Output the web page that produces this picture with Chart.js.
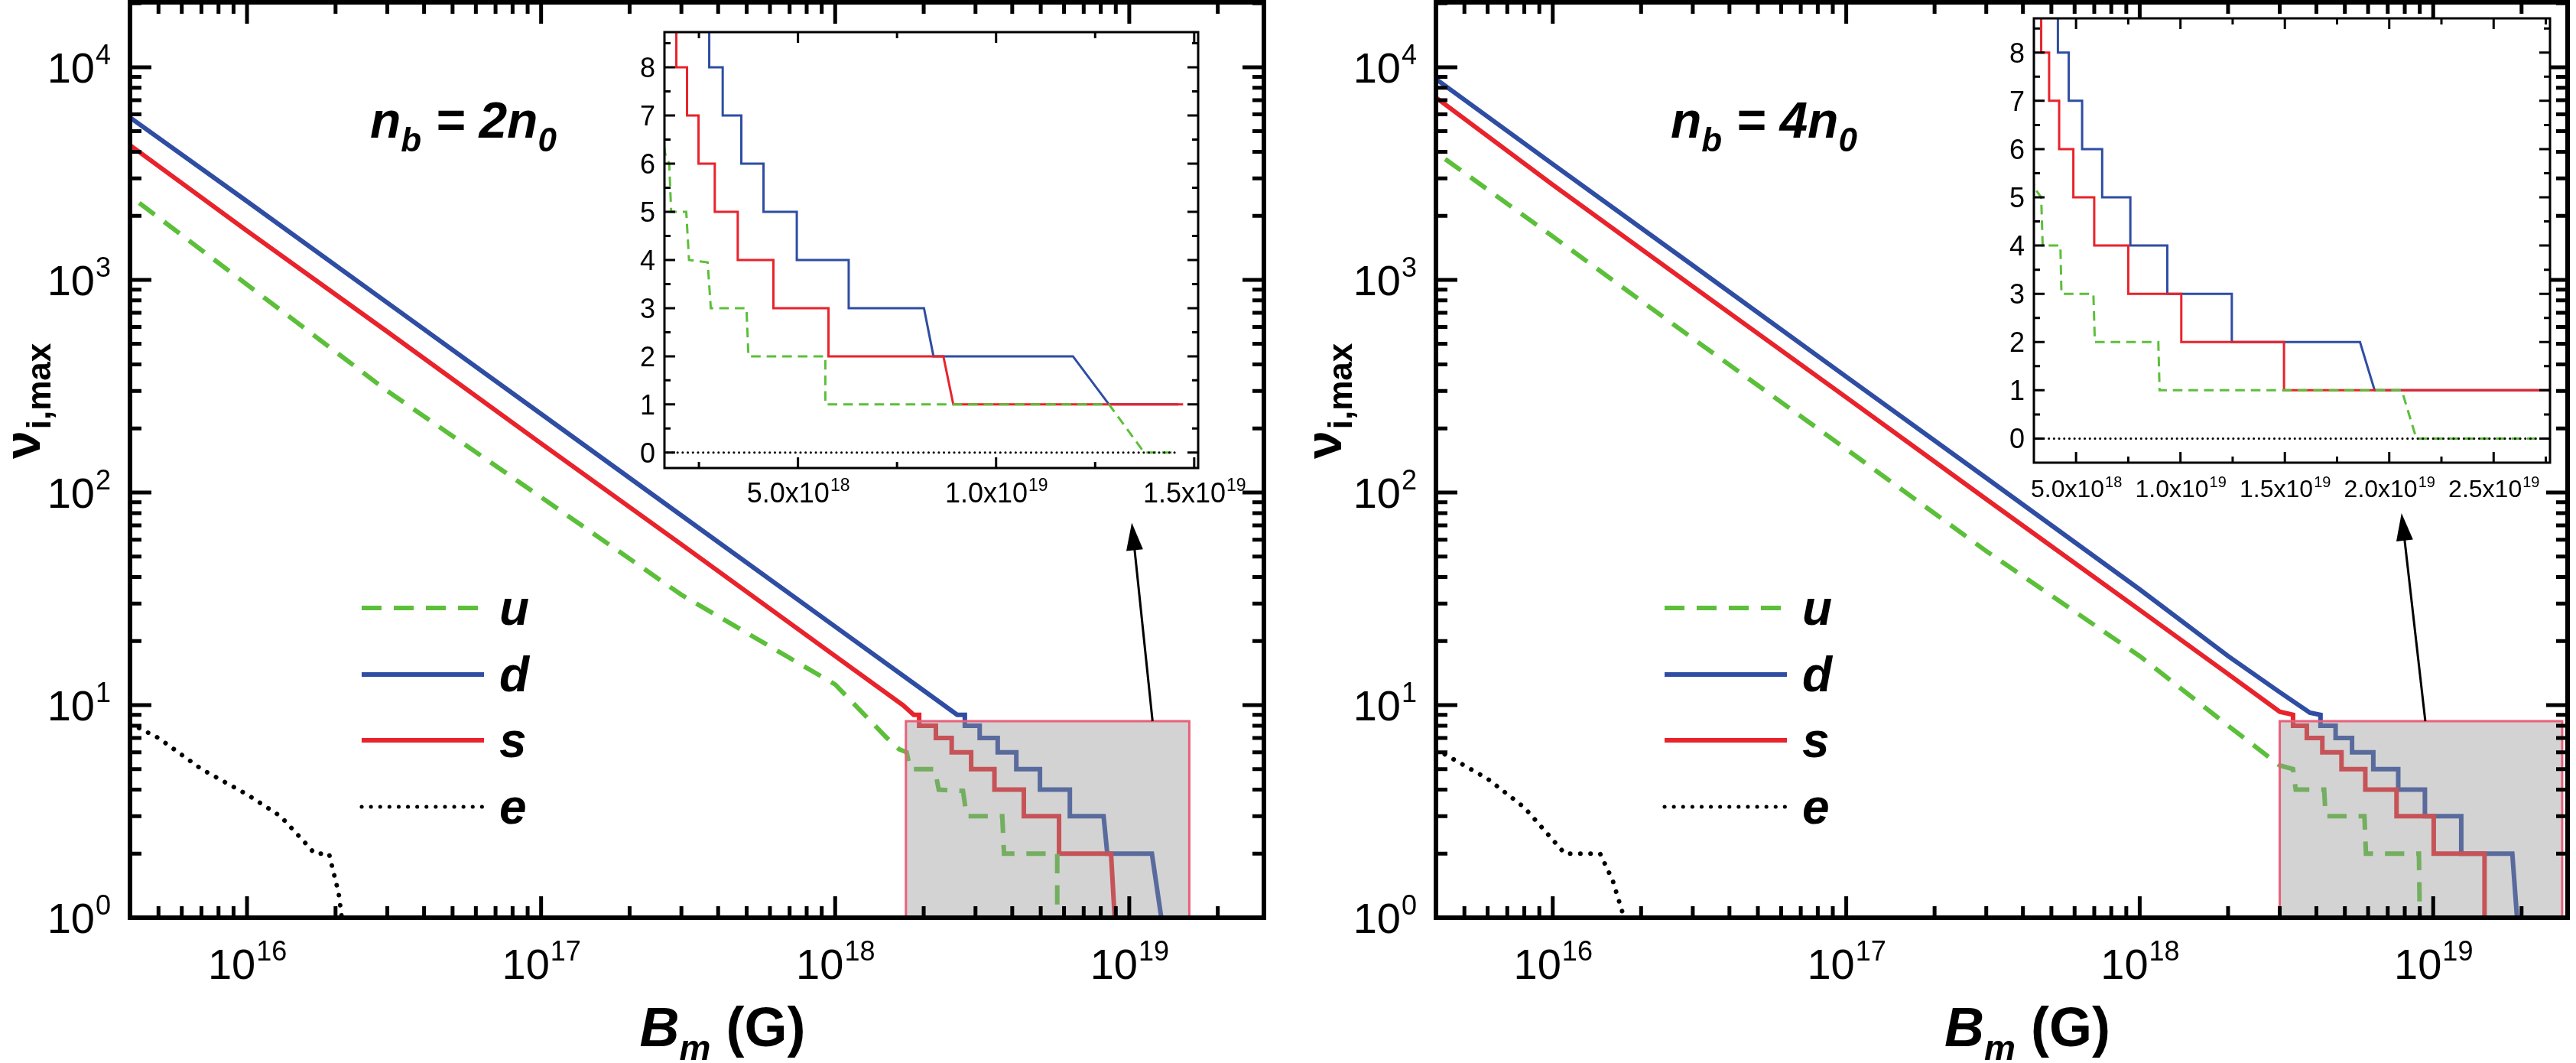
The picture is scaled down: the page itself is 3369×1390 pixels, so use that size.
<!DOCTYPE html>
<html>
<head>
<meta charset="utf-8">
<script src="https://cdn.jsdelivr.net/npm/chart.js@4.4.1/dist/chart.umd.min.js"></script>
<style>
  html, body { margin: 0; padding: 0; background: #fff; }
  #page { position: relative; width: 3369px; height: 1390px; overflow: hidden; }
  canvas { position: absolute; }
</style>
</head>
<body>
<div id="page">
  <canvas id="mainL" width="1684" height="1390" style="left:0;top:0"></canvas>
  <canvas id="mainR" width="1669" height="1390" style="left:1700px;top:0"></canvas>
  <canvas id="insetL" width="860" height="700" style="left:800px;top:0"></canvas>
  <canvas id="insetR" width="769" height="700" style="left:2600px;top:0"></canvas>
</div>
<script>
// ---- data: [B (G), nu_max] ----
// left panel, n_b = 2 n_0
const uL = [[4.3e15,2300],[1e16,950],[3e16,300],[1e17,95],[3e17,33],[1e18,12.5],[1.5e18,7],[1.65e18,6.2],
  [1.75e18,6],[1.8e18,5],[2.18e18,5],[2.25e18,4],[2.72e18,3.95],[2.8e18,3],[3.7e18,3],[3.75e18,2],
  [5.69e18,2],[5.69e18,1],[1.285e19,1],[1.374e19,0],[1.445e19,0]];
const dL = [[4.0e15,5800],[1e16,2340],[3e16,780],[1e17,234],[3e17,78],[1e18,23.4],[2e18,11.7],[2.6e18,9],
  [2.76e18,9],[2.76e18,8],[3.1e18,8],[3.1e18,7],[3.57e18,7],[3.57e18,6],[4.13e18,6],[4.13e18,5],
  [4.97e18,5],[4.97e18,4],[6.28e18,4],[6.28e18,3],[8.18e18,3],[8.42e18,2],[1.194e19,2],[1.285e19,1],[1.46e19,1]];
const sL = [[4.0e15,4300],[1e16,1700],[3e16,570],[1e17,170],[3e17,57],[1e18,17],[1.7e18,10],[1.85e18,9],
  [1.93e18,9],[1.93e18,8],[2.2e18,8],[2.2e18,7],[2.49e18,7],[2.49e18,6],[2.9e18,6],[2.9e18,5],
  [3.48e18,5],[3.48e18,4],[4.38e18,4],[4.38e18,3],[5.77e18,3],[5.77e18,2],[8.67e18,2],[8.92e18,1],[1.472e19,1]];
const eL = [[4.0e15,8.2],[5e15,7],[7e15,5],[1e16,3.8],[1.3e16,3],[1.6e16,2.2],[1.7e16,2],[1.9e16,2],
  [2.05e16,1.3],[2.1e16,1],[2.1e16,0],[1.46e19,0]];
// right panel, n_b = 4 n_0
const uR = [[4.3e15,3700],[1e16,1600],[3e16,530],[1e17,160],[3e17,53],[1e18,17],[2e18,8],[3e18,5.2],
  [3.33e18,5],[3.4e18,4],[4.25e18,4],[4.3e18,3],[5.83e18,3],[5.9e18,2],[8.94e18,2],[9.0e18,1],
  [2.06e19,1],[2.13e19,0],[2.77e19,0]];
const dR = [[4.0e15,8800],[1e16,3500],[3e16,1170],[1e17,350],[3e17,117],[1e18,35],[2e18,17],[3e18,11.5],[3.8e18,9.2],
  [4.13e18,9],[4.13e18,8],[4.65e18,8],[4.65e18,7],[5.29e18,7],[5.29e18,6],[6.25e18,6],[6.25e18,5],
  [7.6e18,5],[7.6e18,4],[9.37e18,4],[9.37e18,3],[1.246e19,3],[1.246e19,2],[1.86e19,2],[1.93e19,1],[2.77e19,1]];
const sR = [[4.0e15,7200],[1e16,2800],[3e16,930],[1e17,280],[3e17,93],[1e18,28],[2e18,14],[3e18,9.3],
  [3.33e18,9],[3.33e18,8],[3.71e18,8],[3.71e18,7],[4.19e18,7],[4.19e18,6],[4.87e18,6],[4.87e18,5],
  [5.87e18,5],[5.87e18,4],[7.5e18,4],[7.5e18,3],[1.004e19,3],[1.004e19,2],[1.496e19,2],[1.496e19,1],[2.77e19,1]];
const eR = [[4.0e15,6.2],[6e15,4.5],[8e15,3.3],[1.1e16,2],[1.45e16,2],[1.6e16,1.5],[1.75e16,1],[1.75e16,0],[2.77e19,0]];

// axes ranges and tick labels
const mainX = [4.0e15, 2.87e19];
const mainY = [1, 2.02e4];
const mainXTickExp = [16, 17, 18, 19];
const mainYTickExp = [0, 1, 2, 3, 4];
const boxL = [1.74e18, 1.6e19, 1, 8.4];
const boxR = [3.0e18, 2.75e19, 1, 8.4];
const arrowL = [1.2e19, 8.4, 1.02e19, 72];
const arrowR = [9.4e18, 8.4, 7.8e18, 80];
const insetLX = [1.63e18, 1.51e19];
const insetRX = [2.98e18, 2.77e19];
const insetLY = [-0.32, 8.73];
const insetRY = [-0.5, 8.71];
const insetLTicks = [[5e18,'5.0','18'],[1e19,'1.0','19'],[1.5e19,'1.5','19']];
const insetRTicks = [[5e18,'5.0','18'],[1e19,'1.0','19'],[1.5e19,'1.5','19'],[2e19,'2.0','19'],[2.5e19,'2.5','19']];
const insetYTicks = [0, 1, 2, 3, 4, 5, 6, 7, 8];

const GREEN = '#5cbf3a', BLUE = '#2e4da3', RED = '#e8232b', BLACK = '#000';
const FONT = '"Liberation Sans", Arial, sans-serif';

function pts(arr, positive) {
  return arr.filter(p => !positive || p[1] > 0).map(p => ({x: p[0], y: p[1]}));
}

function series(u, d, s, e, positive, w) {
  return [
    {data: pts(e, positive), borderColor: BLACK, borderWidth: w, borderDash: [0.1, w * 2.2], borderCapStyle: 'round'},
    {data: pts(u, positive), borderColor: GREEN, borderWidth: w, borderDash: [w * 4.2, w * 2.6]},
    {data: pts(s, positive), borderColor: RED, borderWidth: w},
    {data: pts(d, positive), borderColor: BLUE, borderWidth: w}
  ].map(ds => Object.assign({pointRadius: 0, tension: 0, fill: false}, ds));
}

function supText(ctx, base, exp, x, y, size, align, weight) {
  ctx.font = (weight || '') + ' ' + size + 'px ' + FONT;
  const wb = ctx.measureText(base).width;
  ctx.font = (weight || '') + ' ' + Math.round(size * 0.64) + 'px ' + FONT;
  const we = ctx.measureText(exp).width;
  let x0 = x;
  if (align === 'center') x0 = x - (wb + we) / 2;
  if (align === 'right') x0 = x - wb - we;
  ctx.textAlign = 'left';
  ctx.font = (weight || '') + ' ' + size + 'px ' + FONT;
  ctx.fillText(base, x0, y);
  ctx.font = (weight || '') + ' ' + Math.round(size * 0.64) + 'px ' + FONT;
  ctx.fillText(exp, x0 + wb + 1, y - size * 0.42);
}

function mainPlugin(opt) {
  return {
    id: 'mainDeco',
    beforeDraw(chart) {
      const ctx = chart.ctx;
      ctx.save(); ctx.fillStyle = '#fff'; ctx.fillRect(0, 0, chart.width, chart.height); ctx.restore();
    },
    afterDatasetsDraw(chart) {
      const ctx = chart.ctx, x = chart.scales.x, y = chart.scales.y;
      const b = opt.box;
      const x1 = x.getPixelForValue(b[0]), x2 = x.getPixelForValue(b[1]);
      const y1 = y.getPixelForValue(b[3]), y2 = y.getPixelForValue(b[2]);
      ctx.save();
      ctx.fillStyle = 'rgba(150,150,150,0.42)';
      ctx.fillRect(x1, y1, x2 - x1, y2 - y1);
      ctx.strokeStyle = '#e8607a'; ctx.lineWidth = 3;
      ctx.strokeRect(x1, y1, x2 - x1, y2 - y1);
      // arrow towards the inset
      const a = opt.arrow;
      const ax = x.getPixelForValue(a[0]), ay = y.getPixelForValue(a[1]);
      const bx = x.getPixelForValue(a[2]), by = y.getPixelForValue(a[3]);
      const ang = Math.atan2(by - ay, bx - ax);
      ctx.strokeStyle = '#000'; ctx.fillStyle = '#000'; ctx.lineWidth = 3;
      ctx.beginPath(); ctx.moveTo(ax, ay); ctx.lineTo(bx - 20 * Math.cos(ang), by - 20 * Math.sin(ang)); ctx.stroke();
      ctx.beginPath();
      ctx.moveTo(bx, by);
      ctx.lineTo(bx - 36 * Math.cos(ang) + 11 * Math.sin(ang), by - 36 * Math.sin(ang) - 11 * Math.cos(ang));
      ctx.lineTo(bx - 36 * Math.cos(ang) - 11 * Math.sin(ang), by - 36 * Math.sin(ang) + 11 * Math.cos(ang));
      ctx.closePath(); ctx.fill();
      ctx.restore();
    },
    afterDraw(chart) {
      const ctx = chart.ctx, x = chart.scales.x, y = chart.scales.y, A = chart.chartArea;
      ctx.save();
      ctx.strokeStyle = '#000'; ctx.fillStyle = '#000';
      ctx.lineWidth = 5;
      ctx.beginPath();
      for (let d = 15; d <= 19; d++) for (let k = 1; k <= 9; k++) {
        const v = k * Math.pow(10, d);
        if (v < mainX[0] || v > mainX[1]) continue;
        const p = x.getPixelForValue(v), L = k === 1 ? 28 : 15;
        ctx.moveTo(p, A.bottom); ctx.lineTo(p, A.bottom - L);
        ctx.moveTo(p, A.top); ctx.lineTo(p, A.top + L);
      }
      for (let d = 0; d <= 4; d++) for (let k = 1; k <= 9; k++) {
        const v = k * Math.pow(10, d);
        if (v < mainY[0] || v > mainY[1]) continue;
        const p = y.getPixelForValue(v), L = k === 1 ? 28 : 15;
        ctx.moveTo(A.left, p); ctx.lineTo(A.left + L, p);
        ctx.moveTo(A.right, p); ctx.lineTo(A.right - L, p);
      }
      ctx.stroke();
      ctx.lineWidth = 6;
      ctx.strokeRect(A.left, A.top, A.right - A.left, A.bottom - A.top);
      ctx.textBaseline = 'alphabetic';
      mainXTickExp.forEach(e => supText(ctx, '10', String(e), x.getPixelForValue(Math.pow(10, e)), A.bottom + 80, 56, 'center'));
      mainYTickExp.forEach(e => supText(ctx, '10', String(e), A.left - 26, y.getPixelForValue(Math.pow(10, e)) + 20, 56, 'right'));
      // axis titles
      ctx.textAlign = 'left';
      const cx = (A.left + A.right) / 2 - 75;
      ctx.font = 'bold italic 72px ' + FONT; ctx.fillText('B', cx, 1368);
      const wB = ctx.measureText('B').width;
      ctx.font = 'bold italic 46px ' + FONT; ctx.fillText('m', cx + wB, 1386);
      const wm = ctx.measureText('m').width;
      ctx.font = 'bold 72px ' + FONT; ctx.fillText(' (G)', cx + wB + wm, 1368);
      ctx.save();
      ctx.translate(opt.ylabX, 600); ctx.rotate(-Math.PI / 2);
      ctx.font = 'bold 66px ' + FONT; ctx.fillText('\u03bd', 0, 0);
      const wn = ctx.measureText('\u03bd').width;
      ctx.font = 'bold 44px ' + FONT; ctx.fillText('i,max', wn + 2, 14);
      ctx.restore();
      // panel label
      let tx = opt.titleX;
      const parts = [['n', 66, 0], ['b', 44, 18], [' = ' + opt.factor + 'n', 66, 0], ['0', 44, 18]];
      parts.forEach(p => {
        ctx.font = 'bold italic ' + p[1] + 'px ' + FONT;
        ctx.fillText(p[0], tx, 180 + p[2]);
        tx += ctx.measureText(p[0]).width;
      });
      // legend
      const items = [['u', GREEN, [26, 16], 795], ['d', BLUE, [], 882], ['s', RED, [], 968], ['e', BLACK, [0.1, 12], 1055]];
      items.forEach(it => {
        ctx.strokeStyle = it[1]; ctx.setLineDash(it[2]);
        ctx.lineWidth = it[0] === 'e' ? 5 : 6; ctx.lineCap = it[0] === 'e' ? 'round' : 'butt';
        ctx.beginPath(); ctx.moveTo(opt.legX, it[3]); ctx.lineTo(opt.legX + 160, it[3]); ctx.stroke();
        ctx.setLineDash([]); ctx.lineCap = 'butt';
        ctx.font = 'bold italic 64px ' + FONT; ctx.fillStyle = '#000';
        ctx.fillText(it[0], opt.legX + 180, it[3] + 22);
      });
      ctx.restore();
    }
  };
}

function insetPlugin(opt) {
  return {
    id: 'insetDeco',
    beforeDatasetsDraw(chart) {
      const ctx = chart.ctx, A = chart.chartArea;
      ctx.save(); ctx.fillStyle = '#fff'; ctx.fillRect(A.left, A.top, A.right - A.left, A.bottom - A.top); ctx.restore();
    },
    afterDraw(chart) {
      const ctx = chart.ctx, x = chart.scales.x, y = chart.scales.y, A = chart.chartArea;
      ctx.save();
      ctx.strokeStyle = '#000'; ctx.fillStyle = '#000'; ctx.lineWidth = 3;
      ctx.beginPath();
      for (let v = 2.5e18; v <= opt.xr[1]; v += 2.5e18) {
        if (v < opt.xr[0]) continue;
        const p = x.getPixelForValue(v), L = Math.abs(v / 5e18 - Math.round(v / 5e18)) < 1e-6 ? 14 : 8;
        ctx.moveTo(p, A.bottom); ctx.lineTo(p, A.bottom - L);
        ctx.moveTo(p, A.top); ctx.lineTo(p, A.top + L);
      }
      for (let v = 0; v <= opt.yr[1]; v += 0.5) {
        const p = y.getPixelForValue(v), L = v % 1 === 0 ? 14 : 8;
        ctx.moveTo(A.left, p); ctx.lineTo(A.left + L, p);
        ctx.moveTo(A.right, p); ctx.lineTo(A.right - L, p);
      }
      ctx.stroke();
      ctx.strokeRect(A.left, A.top, A.right - A.left, A.bottom - A.top);
      ctx.font = '36px ' + FONT; ctx.textAlign = 'right';
      insetYTicks.forEach(v => ctx.fillText(String(v), A.left - 12, y.getPixelForValue(v) + 13));
      opt.ticks.forEach(t => supText(ctx, t[1] + 'x10', t[2], x.getPixelForValue(t[0]), A.bottom + 45, opt.fs, 'center'));
      ctx.restore();
    }
  };
}

function makeMain(id, u, d, s, e, opt, pad) {
  return new Chart(document.getElementById(id), {
    type: 'line',
    data: {datasets: series(u, d, s, e, true, 6)},
    options: {
      responsive: false, animation: false, devicePixelRatio: 1,
      layout: {padding: pad},
      plugins: {legend: {display: false}, tooltip: {enabled: false}},
      scales: {
        x: {type: 'logarithmic', min: mainX[0], max: mainX[1], display: false},
        y: {type: 'logarithmic', min: mainY[0], max: mainY[1], display: false}
      }
    },
    plugins: [mainPlugin(opt)]
  });
}

function makeInset(id, u, d, s, e, opt, pad) {
  return new Chart(document.getElementById(id), {
    type: 'line',
    data: {datasets: series(u, d, s, e, false, 3)},
    options: {
      responsive: false, animation: false, devicePixelRatio: 1,
      layout: {padding: pad},
      plugins: {legend: {display: false}, tooltip: {enabled: false}},
      scales: {
        x: {type: 'linear', min: opt.xr[0], max: opt.xr[1], display: false},
        y: {type: 'linear', min: opt.yr[0], max: opt.yr[1], display: false}
      }
    },
    plugins: [insetPlugin(opt)]
  });
}

makeMain('mainL', uL, dL, sL, eL,
  {box: boxL, arrow: arrowL, factor: '2', titleX: 484, legX: 473, ylabX: 52},
  {left: 170, right: 31, top: 3, bottom: 190});
makeMain('mainR', uR, dR, sR, eR,
  {box: boxR, arrow: arrowR, factor: '4', titleX: 485, legX: 477, ylabX: 54},
  {left: 178, right: 11, top: 3, bottom: 190});
makeInset('insetL', uL, dL, sL, eL,
  {xr: insetLX, yr: insetLY, ticks: insetLTicks, fs: 36},
  {left: 69, right: 93, top: 42, bottom: 88});
makeInset('insetR', uR, dR, sR, eR,
  {xr: insetRX, yr: insetRY, ticks: insetRTicks, fs: 32},
  {left: 60, right: 34, top: 24, bottom: 95});
</script>
</body>
</html>
